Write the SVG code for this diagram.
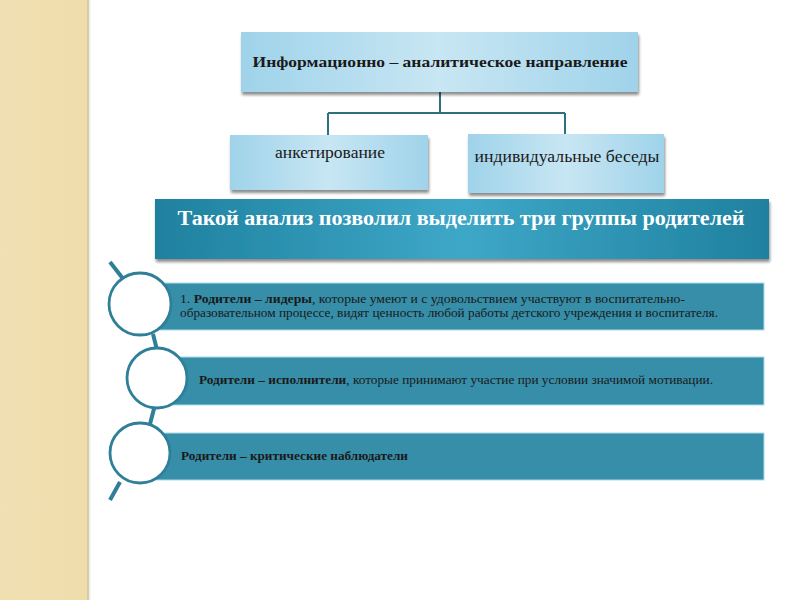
<svg xmlns="http://www.w3.org/2000/svg" width="800" height="600" viewBox="0 0 800 600">
<defs>
<linearGradient id="lb" x1="0" y1="0" x2="1" y2="0">
<stop offset="0" stop-color="#9fd3ea"/>
<stop offset="0.5" stop-color="#c8e6f3"/>
<stop offset="1" stop-color="#9fd3ea"/>
</linearGradient>
<linearGradient id="tb" x1="0" y1="0" x2="1" y2="0">
<stop offset="0" stop-color="#1f819f"/>
<stop offset="0.5" stop-color="#3ea7c8"/>
<stop offset="1" stop-color="#1f819f"/>
</linearGradient>
<linearGradient id="strip" x1="0" y1="0" x2="1" y2="0">
<stop offset="0" stop-color="#f1e0b3"/>
<stop offset="1" stop-color="#efdcab"/>
</linearGradient>
<filter id="sh" x="-5%" y="-10%" width="110%" height="130%">
<feGaussianBlur in="SourceAlpha" stdDeviation="1.5"/>
<feOffset dx="1" dy="2.5"/>
<feComponentTransfer><feFuncA type="linear" slope="0.45"/></feComponentTransfer>
<feMerge><feMergeNode/><feMergeNode in="SourceGraphic"/></feMerge>
</filter>
</defs>
<style>
.lbox{fill:url(#lb);filter:url(#sh)}
.bar{fill:#368ea8;stroke:#a9dcea;stroke-width:1}
.circ{fill:#ffffff;stroke:#2e7f97;stroke-width:2.8}
.conn{fill:none;stroke:#2e6f80;stroke-width:2}
.tl{fill:none;stroke:#2e7f97;stroke-width:4}
.t{font-family:"Liberation Serif","Times New Roman",serif;fill:#1a1a1a}
.b{font-weight:bold}
</style>
<rect x="0" y="0" width="800" height="600" fill="#ffffff"/>
<rect x="0" y="0" width="88" height="600" fill="url(#strip)"/>
<rect x="87" y="0" width="2" height="600" fill="#d9cba6"/>
<rect x="89" y="0" width="1.5" height="600" fill="#ececec"/>

<g id="connectors">
<path class="conn" d="M440,92 V113 M328,113 H565 M328,113 V135 M565,113 V134"/>
<path class="tl" d="M110,262 L124,280 M153,334 L157,350 M155,405 L150,424 M120,482 L110,500"/>
</g>

<g id="top">
<rect class="lbox" x="241" y="32" width="397" height="60"/>
<text class="t b" x="440" y="67" font-size="15" text-anchor="middle" textLength="375" lengthAdjust="spacingAndGlyphs">Информационно – аналитическое направление</text>
</g>
<g id="ank">
<rect class="lbox" x="230" y="135" width="198" height="55"/>
<text class="t" x="330" y="158" font-size="16" text-anchor="middle" textLength="110" lengthAdjust="spacingAndGlyphs">анкетирование</text>
</g>
<g id="ind">
<rect class="lbox" x="468" y="134" width="196" height="59"/>
<text class="t" x="567" y="162" font-size="16" text-anchor="middle" textLength="185" lengthAdjust="spacingAndGlyphs">индивидуальные беседы</text>
</g>

<g id="banner">
<rect x="155" y="199" width="614" height="60" fill="url(#tb)" filter="url(#sh)"/>
<text class="t b" x="461" y="225" font-size="20" text-anchor="middle" style="fill:#ffffff" textLength="567" lengthAdjust="spacingAndGlyphs">Такой анализ позволил выделить три группы родителей</text>
</g>

<g id="g1">
<rect class="bar" x="150" y="283" width="614" height="47"/>
<circle class="circ" cx="140" cy="304" r="31"/>
<text class="t" x="180" y="303" font-size="11.5" textLength="505" lengthAdjust="spacingAndGlyphs">1. <tspan class="b">Родители – лидеры</tspan>, которые умеют и с удовольствием участвуют в воспитательно-</text>
<text class="t" x="180" y="317" font-size="11.5" textLength="538" lengthAdjust="spacingAndGlyphs">образовательном процессе, видят ценность любой работы детского учреждения и воспитателя.</text>
</g>
<g id="g2">
<rect class="bar" x="150" y="357" width="614" height="48"/>
<circle class="circ" cx="157" cy="378" r="30"/>
<text class="t" x="199" y="384" font-size="11.5" textLength="514" lengthAdjust="spacingAndGlyphs"><tspan class="b">Родители – исполнители</tspan>, которые принимают участие при условии значимой мотивации.</text>
</g>
<g id="g3">
<rect class="bar" x="150" y="433" width="614" height="47"/>
<circle class="circ" cx="140" cy="453" r="30"/>
<text class="t b" x="181" y="460" font-size="11.5" textLength="227" lengthAdjust="spacingAndGlyphs">Родители – критические наблюдатели</text>
</g>
</svg>
